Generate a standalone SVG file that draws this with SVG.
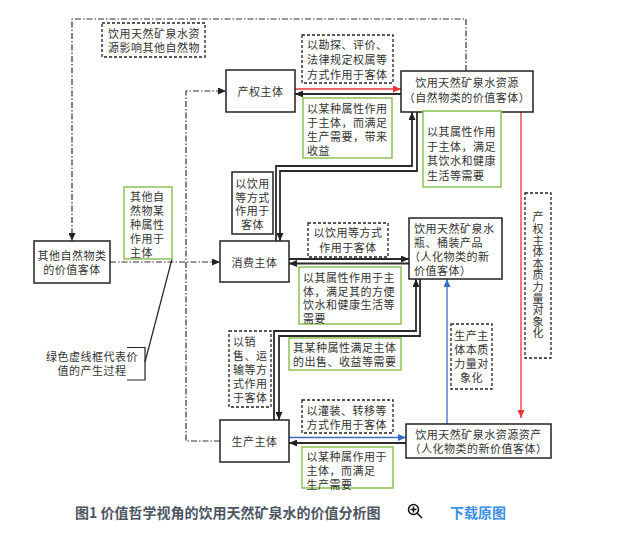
<svg xmlns="http://www.w3.org/2000/svg" width="628" height="535" viewBox="0 0 628 535">
<defs>
<marker id="ad" markerWidth="8" markerHeight="7" refX="8" refY="3.5" orient="auto" markerUnits="userSpaceOnUse"><path d="M0,0 L8,3.5 L0,7 z" fill="#222"/></marker>
<marker id="ar" markerWidth="8" markerHeight="7" refX="8" refY="3.5" orient="auto" markerUnits="userSpaceOnUse"><path d="M0,0 L8,3.5 L0,7 z" fill="#e53935"/></marker>
<marker id="ab" markerWidth="8" markerHeight="7" refX="8" refY="3.5" orient="auto" markerUnits="userSpaceOnUse"><path d="M0,0 L8,3.5 L0,7 z" fill="#3a6cc6"/></marker>
</defs>
<style>
text{font-family:"Noto Sans CJK SC","Noto Sans CJK JP",sans-serif;font-size:11px;letter-spacing:0.5px;fill:#333;dominant-baseline:central}
.c{text-anchor:middle}
.v{writing-mode:vertical-rl;text-anchor:middle;letter-spacing:0.6px}
.box{fill:#fff;stroke:#222;stroke-width:1.5}
.dash{fill:#fff;stroke:#222;stroke-width:1.3;stroke-dasharray:3 2}
.green{fill:#fff;stroke:#8dc153;stroke-width:1.5}
.ln{fill:none;stroke:#2a2a2a;stroke-width:1.8}
.thin{fill:none;stroke:#222;stroke-width:1.2}
.dd{fill:none;stroke:#333;stroke-width:1.2;stroke-dasharray:6 2 1.5 2}
.red{fill:none;stroke:#e53935;stroke-width:1.3}
.blue{fill:none;stroke:#3a6cc6;stroke-width:1.3}
.cap{font-size:14px;letter-spacing:0;font-weight:bold;fill:#4d5663}
.dl{font-size:14px;letter-spacing:0;font-weight:bold;fill:#3b8fe0}
</style>
<rect width="628" height="535" fill="#fff"/>
<g id="connectors">
<path class="dd" d="M466,71 V19 H72 V241" marker-end="url(#ad)"/>
<path class="dd" d="M110,262 H220" marker-end="url(#ad)"/>
<path class="dd" d="M220,441 H186 V91 H226" marker-end="url(#ad)"/>
<path class="red" d="M295,89 H401" marker-end="url(#ar)"/>
<path class="ln" d="M401,94 H295" marker-end="url(#ad)"/>
<path class="red" d="M521,112 V418" marker-end="url(#ar)"/>
<path class="ln" d="M276,241 V166 H412 V112" marker-end="url(#ad)"/>
<path class="ln" d="M417,112 V171 H280 V241" marker-end="url(#ad)"/>
<path class="ln" d="M289,259 H409" marker-end="url(#ad)"/>
<path class="ln" d="M409,263.5 H289" marker-end="url(#ad)"/>
<path class="ln" d="M274,420 V331 H416 V279" marker-end="url(#ad)"/>
<path class="ln" d="M420,279 V336 H279 V420" marker-end="url(#ad)"/>
<path class="blue" d="M447,424 V279" marker-end="url(#ab)"/>
<path class="blue" d="M289,437.5 H406" marker-end="url(#ab)"/>
<path class="ln" d="M406,443 H289" marker-end="url(#ad)"/>
<path class="thin" d="M145,362 L172,259"/>
</g>
<g id="n-influence">
<rect class="dash" x="102" y="23" width="103" height="34"/>
<text><tspan x="108" y="33">饮用天然矿泉水资</tspan><tspan x="108" y="47">源影响其他自然物</tspan></text>
</g>
<g id="n-chanquan">
<rect class="box" x="226" y="70" width="69" height="42"/>
<text class="c" x="260.5" y="91">产权主体</text>
</g>
<g id="n-ziyuan">
<rect class="box" x="401" y="71" width="132" height="41"/>
<text class="c"><tspan x="467" y="82">饮用天然矿泉水资源</tspan><tspan x="467" y="97">（自然物类的价值客体）</tspan></text>
</g>
<g id="l-kantan">
<rect class="dash" x="302" y="35" width="91" height="48"/>
<text><tspan x="307" y="44">以勘探、评价、</tspan><tspan x="307" y="59">法律规定权属等</tspan><tspan x="307" y="74">方式作用于客体</tspan></text>
</g>
<g id="l-shouyi">
<rect class="green" x="303" y="98" width="89" height="60"/>
<text><tspan x="307" y="107.5">以某种属性作用</tspan><tspan x="307" y="121.5">于主体，而满足</tspan><tspan x="307" y="135.5">生产需要，带来</tspan><tspan x="307" y="149.5">收益</tspan></text>
</g>
<g id="l-yinshui">
<rect class="green" x="423" y="111" width="78" height="76"/>
<text><tspan x="427" y="131">以其属性作用</tspan><tspan x="427" y="145.5">于主体，满足</tspan><tspan x="427" y="160">其饮水和健康</tspan><tspan x="427" y="174.5">生活等需要</tspan></text>
</g>
<g id="l-yinyong1">
<rect class="box" x="232" y="172" width="41" height="62"/>
<text class="c"><tspan x="252.5" y="182.5">以饮用</tspan><tspan x="252.5" y="196.5">等方式</tspan><tspan x="252.5" y="210">作用于</tspan><tspan x="252.5" y="224">客体</tspan></text>
</g>
<g id="l-qita">
<rect class="green" x="124" y="187" width="48" height="72"/>
<text><tspan x="130" y="195.5">其他自</tspan><tspan x="130" y="209.5">然物某</tspan><tspan x="130" y="223.5">种属性</tspan><tspan x="130" y="237.5">作用于</tspan><tspan x="130" y="251.5">主体</tspan></text>
</g>
<g id="n-qita">
<rect class="box" x="34" y="241" width="76" height="42"/>
<text class="c"><tspan x="72" y="255">其他自然物类</tspan><tspan x="72" y="269">的价值客体</tspan></text>
</g>
<g id="n-xiaofei">
<rect class="box" x="220" y="241" width="69" height="41"/>
<text class="c" x="254.5" y="261.5">消费主体</text>
</g>
<g id="l-yinyong2">
<rect class="dash" x="308" y="223" width="80" height="34"/>
<text class="c"><tspan x="348" y="232">以饮用等方式</tspan><tspan x="348" y="247">作用于客体</tspan></text>
</g>
<g id="n-pingzhuang">
<rect class="box" x="409" y="218" width="93" height="61"/>
<text><tspan x="414" y="227.5">饮用天然矿泉水</tspan><tspan x="414" y="241.5">瓶、桶装产品</tspan><tspan x="409" y="255.5">（人化物类的新</tspan><tspan x="414" y="269.5">价值客体）</tspan></text>
</g>
<g id="l-fangbian">
<rect class="green" x="299" y="267" width="102" height="57"/>
<text><tspan x="303" y="276.5">以其属性作用于主</tspan><tspan x="303" y="290.5">体，满足其的方便</tspan><tspan x="303" y="304">饮水和健康生活等</tspan><tspan x="303" y="318">需要</tspan></text>
</g>
<g id="l-xiaoshou">
<rect class="dash" x="229" y="331" width="42" height="76"/>
<text><tspan x="233" y="340.5">以销</tspan><tspan x="233" y="354.5">售、运</tspan><tspan x="233" y="368.5">输等方</tspan><tspan x="233" y="382.5">式作用</tspan><tspan x="233" y="396.5">于客体</tspan></text>
</g>
<g id="l-chushou">
<rect class="green" x="289" y="338" width="112" height="32"/>
<text><tspan x="293" y="347">其某种属性满足主体</tspan><tspan x="293" y="361">的出售、收益等需要</tspan></text>
</g>
<g id="l-shengchan-dxh">
<rect class="dash" x="451" y="324" width="41" height="65"/>
<text class="c"><tspan x="471.5" y="335">生产主</tspan><tspan x="471.5" y="349">体本质</tspan><tspan x="471.5" y="363">力量对</tspan><tspan x="471.5" y="377">象化</tspan></text>
</g>
<g id="l-chanquan-dxh">
<rect class="dash" x="525" y="193" width="26" height="165"/>
<text class="v" x="538" y="275.5">产权主体本质力量对象化</text>
</g>
<g id="l-guanzhuang">
<rect class="dash" x="302" y="400" width="91" height="33"/>
<text><tspan x="306.5" y="409.5">以灌装、转移等</tspan><tspan x="306.5" y="423.5">方式作用于客体</tspan></text>
</g>
<g id="l-shengchan">
<rect class="green" x="302" y="447" width="91" height="41"/>
<text><tspan x="306.5" y="456">以某种属作用于</tspan><tspan x="306.5" y="470">主体，而满足</tspan><tspan x="306.5" y="484">生产需要</tspan></text>
</g>
<g id="n-shengchan">
<rect class="box" x="220" y="420" width="69" height="42"/>
<text class="c" x="254.5" y="441">生产主体</text>
</g>
<g id="n-zichan">
<rect class="box" x="406" y="424" width="145" height="34"/>
<text class="c"><tspan x="478.5" y="433.5">饮用天然矿泉水资源资产</tspan><tspan x="478.5" y="447.5">（人化物类的新价值客体）</tspan></text>
</g>
<g id="legend">
<path class="thin" d="M127,347.5 H145 V380 H127"/>
<text class="c"><tspan x="92" y="356">绿色虚线框代表价</tspan><tspan x="92" y="370">值的产生过程</tspan></text>
</g>
<g id="caption">
<text class="cap" x="75" y="512">图1 价值哲学视角的饮用天然矿泉水的价值分析图</text>
<circle cx="413.5" cy="509.5" r="5" fill="none" stroke="#111" stroke-width="1.5"/>
<path d="M410.5,509.5 H416.5 M413.5,506.5 V512.5 M417,513 L422,518" stroke="#111" stroke-width="1.5" fill="none"/>
<text class="dl" x="450" y="512">下载原图</text>
</g>
</svg>
